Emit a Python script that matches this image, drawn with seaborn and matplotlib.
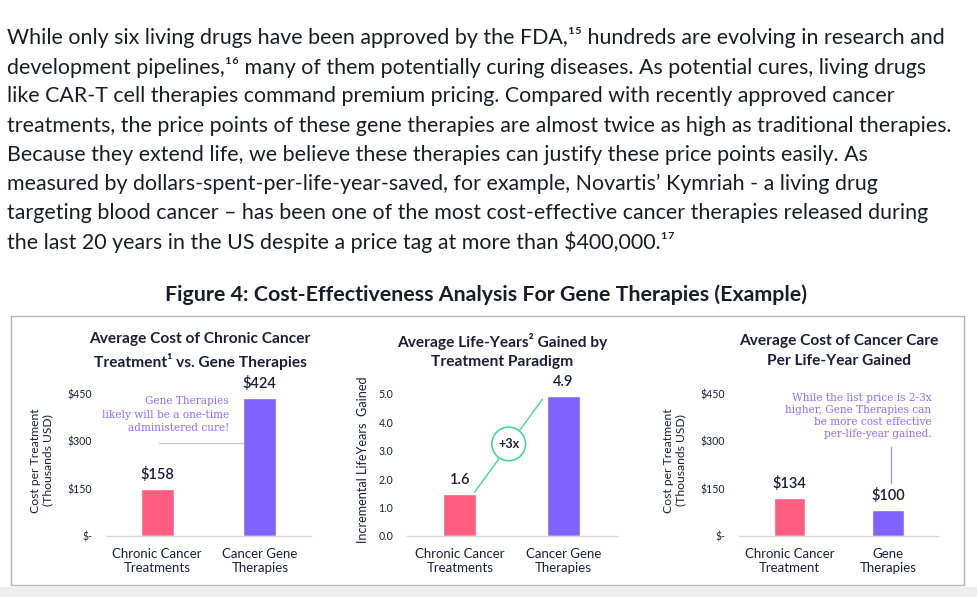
import matplotlib
matplotlib.use("Agg")
import matplotlib.pyplot as plt
from matplotlib.patches import Rectangle
import seaborn as sns

sns.set_theme(style="white")
plt.rcParams['font.family'] = ['Lato', 'DejaVu Sans']

W, H = 977, 597

# --- data ---
paragraph = [
    "While only six living drugs have been approved by the FDA,\u00b9\u2075 hundreds are evolving in research and",
    "development pipelines,\u00b9\u2076 many of them potentially curing diseases. As potential cures, living drugs",
    "like CAR-T cell therapies command premium pricing. Compared with recently approved cancer",
    "treatments, the price points of these gene therapies are almost twice as high as traditional therapies.",
    "Because they extend life, we believe these therapies can justify these price points easily. As",
    "measured by dollars-spent-per-life-year-saved, for example, Novartis\u2019 Kymriah - a living drug",
    "targeting blood cancer \u2013 has been one of the most cost-effective cancer therapies released during",
    "the last 20 years in the US despite a price tag at more than $400,000.\u00b9\u2077",
]
fig_title = "Figure 4: Cost-Effectiveness Analysis For Gene Therapies (Example)"

cost_cats = ["Chronic Cancer\nTreatments", "Cancer Gene\nTherapies"]
cost_vals = [149, 437]
cost_labels = ["$158", "$424"]

ly_cats = ["Chronic Cancer\nTreatments", "Cancer Gene\nTherapies"]
ly_vals = [1.48, 4.94]
ly_labels = ["1.6", "4.9"]

pl_cats = ["Chronic Cancer\nTreatment", "Gene\nTherapies"]
pl_vals = [121, 82]
pl_labels = ["$134", "$100"]

usd_ticks = [0, 150, 300, 450]
usd_ticklabels = ["$-", "$150", "$300", "$450"]
ly_ticks = [0, 1, 2, 3, 4, 5]

PINK = "#FF5E7E"
PURPLE = "#8062FF"
NOTE = "#8D70FF"
GREEN = "#45D896"
DARK = "#1E1E3C"
TEXT = "#1c1c28"

fig = plt.figure(figsize=(W / 100, H / 100), dpi=100)
fig.patch.set_facecolor("white")


def px(x0, y0, x1, y1):
    return [x0 / W, 1 - y1 / H, (x1 - x0) / W, (y1 - y0) / H]


def ftext(x, y, s, **kw):
    fig.text(x / W, 1 - y / H, s, **kw)


# paragraph
for i, line in enumerate(paragraph):
    ftext(7, 38 + i * 29.2, line, fontsize=15.4, color=TEXT, va="center", ha="left")

ftext(486, 295, fig_title, fontsize=15.4, fontweight="bold", color=TEXT, ha="center", va="center")

# panel border and bottom strip
fig.add_artist(Rectangle((11 / W, 1 - 585 / H), (964 - 11) / W, (585 - 316) / H,
                         transform=fig.transFigure, fill=False, ec="#b4b4b4", lw=1))
fig.add_artist(Rectangle((0, 0), 1, (597 - 587) / H, transform=fig.transFigure,
                         fc="#eeeeee", ec="none"))


def bar_panel(rect, cats, vals, labels, ylim, xlim, ticks, ticklabels, ylabel, title, title_x,
              ylabel_size=8.7, labelpad=10):
    ax = fig.add_axes(rect)
    sns.barplot(x=cats, y=vals, hue=cats, palette=[PINK, PURPLE], width=0.32,
                legend=False, ax=ax, saturation=1)
    ax.set_ylim(*ylim)
    ax.set_xlim(*xlim)
    ax.set_yticks(ticks)
    ax.set_yticklabels(ticklabels, fontsize=7.6, color=DARK)
    ax.tick_params(axis="y", length=0, pad=10)
    ax.tick_params(axis="x", length=0, labelsize=9.5, colors=DARK, pad=9)
    for t in ax.get_xticklabels():
        t.set_linespacing(1.15)
    for s in ["top", "right", "left"]:
        ax.spines[s].set_visible(False)
    ax.spines["bottom"].set_color("#d8d8e0")
    ax.spines["bottom"].set_linewidth(1)
    ax.set_facecolor("none")
    ax.set_ylabel(ylabel, fontsize=ylabel_size, color=DARK, labelpad=labelpad)
    for i, (v, lab) in enumerate(zip(vals, labels)):
        ax.annotate(lab, (i, v), xytext=(0, 5), textcoords="offset points",
                    ha="center", va="bottom", fontsize=10.5, fontweight="semibold",
                    color=DARK, annotation_clip=False)
    ftext(title_x, 351, title, fontsize=11.2, fontweight="bold", color=DARK,
          ha="center", va="center", linespacing=1.5)
    return ax


ax1 = bar_panel(px(106, 384.5, 311, 536), cost_cats, cost_vals, cost_labels,
                (0, 480), (-0.5, 1.5), usd_ticks, usd_ticklabels,
                "Cost per Treatment\n(Thousands USD)",
                "Average Cost of Chronic Cancer\nTreatment\u00b9 vs. Gene Therapies", 200)
ax1.text(0.70, 443, "Gene Therapies\nlikely will be a one-time\nadministered cure!",
         ha="right", va="top", fontsize=7.6, color=NOTE, family="DejaVu Serif", linespacing=1.45)
ax1.plot([0.015, 0.84], [294, 294], color="#cfc8ee", lw=1)

ax2 = bar_panel(px(407, 382.6, 617, 536), ly_cats, ly_vals, ly_labels,
                (0, 5.4), (-0.51, 1.52), ly_ticks, [f"{t:.1f}" for t in ly_ticks],
                "Incremental LifeYears  Gained",
                "Average Life-Years\u00b2 Gained by\nTreatment Paradigm", 502,
                ylabel_size=9.1, labelpad=7)
ax2.plot([0.145, 0.80], [1.55, 4.82], color=GREEN, lw=1, zorder=3)
ax2.text(0.473, 3.24, "+3x", ha="center", va="center", fontsize=9, fontweight="bold",
         color=DARK, zorder=4,
         bbox=dict(boxstyle="circle,pad=0.5", fc="white", ec=GREEN, lw=1.2))

ax3 = bar_panel(px(739, 384.5, 938, 536), pl_cats, pl_vals, pl_labels,
                (0, 480), (-0.513, 1.508), usd_ticks, usd_ticklabels,
                "Cost per Treatment\n(Thousands USD)",
                "Average Cost of Cancer Care\nPer Life-Year Gained", 839)
ax3.text(1.44, 452, "While the list price is 2-3x\nhigher, Gene Therapies can\nbe more cost effective\nper-life-year gained.",
         ha="right", va="top", fontsize=7.6, color=NOTE, family="DejaVu Serif", linespacing=1.25)
ax3.plot([1.03, 1.03], [282, 168], color="#a898ee", lw=1)

fig.savefig("out.png", dpi=100)
